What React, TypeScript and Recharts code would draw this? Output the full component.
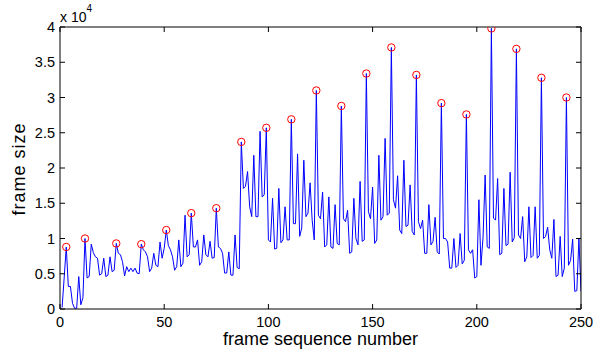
import React from "react";
import { LineChart, Line, XAxis, YAxis } from "recharts";

// frame sizes in bytes, frames 1..250
const frameSizes = [
  200, 4400, 8800, 3200, 3200, 800, 100, 100, 4600, 600, 1600, 10000,
  4400, 4600, 9200, 8000, 7400, 7200, 4800, 5000, 7200, 4600, 4800, 7400,
  5300, 5500, 9300, 7900, 7700, 6700, 4700, 6000, 5300, 5800, 5300, 5800,
  5100, 5000, 9200, 8400, 8100, 7400, 5300, 5800, 7900, 6200, 6000, 9500,
  7200, 8600, 11200, 9000, 8400, 7400, 5500, 6000, 9800, 6000, 6500, 13300,
  7400, 7700, 13600, 8800, 8800, 9800, 6200, 6700, 10500, 7700, 7400, 9600,
  7200, 7300, 14300, 8800, 8600, 7900, 5100, 5100, 8100, 4800, 4800, 10500,
  5900, 5700, 23700, 17100, 17400, 19500, 14500, 13100, 21800, 13100, 13100, 25200,
  15900, 16200, 25700, 9800, 9500, 15700, 8500, 8600, 17100, 9400, 9800, 14500,
  9800, 9800, 26900, 12100, 12100, 22000, 10300, 11500, 21100, 13100, 13600, 17900,
  12600, 9800, 31000, 13300, 12800, 16600, 8800, 9100, 15900, 8800, 8600, 14800,
  9300, 9100, 28800, 12800, 12400, 14000, 7900, 8100, 15700, 10000, 9100, 18100,
  9600, 9800, 33400, 13800, 12800, 17300, 9300, 9800, 21800, 12600, 13100, 24200,
  13300, 13600, 37100, 15500, 14300, 18900, 11200, 10700, 21100, 11700, 11900, 17600,
  11000, 10500, 33200, 12400, 11400, 12600, 7900, 7900, 14800, 9100, 9600, 13000,
  8100, 7800, 29200, 10000, 10000, 9500, 5800, 5800, 10000, 5900, 6200, 10700,
  6400, 6900, 27600, 8400, 7900, 8400, 4400, 4600, 15500, 6200, 10200, 19000,
  8800, 8600, 39800, 12900, 12600, 18500, 7700, 7900, 17100, 9000, 9200, 19400,
  9500, 10100, 36900, 10500, 10000, 13100, 6700, 7400, 14500, 7300, 7600, 14500,
  7200, 7600, 32800, 10000, 10300, 11600, 8400, 7200, 12700, 4600, 4800, 10300,
  4600, 5800, 30000, 6200, 6900, 9900, 2500, 2600, 10000, 2500,
];

// I-frames marked with red circles
const iFrames = [3, 12, 27, 39, 51, 63, 75, 87, 99, 111, 123, 135, 147, 159, 171, 183, 195, 207, 219, 231, 243];

const xTicks = [0, 50, 100, 150, 200, 250];
const yTicks = [0, 5000, 10000, 15000, 20000, 25000, 30000, 35000, 40000];

const chartData = frameSizes.map((size, i) => ({ frame: i + 1, size }));

const FONT = "'Liberation Sans', Arial, Helvetica, sans-serif";
const TICK_LEN = 5;

const fmtY = (v: number) => String(v / 10000);

function BottomTick({ x, y, payload }: any) {
  return (
    <g>
      <line x1={x} x2={x} y1={y - 8} y2={y - 8 - TICK_LEN} stroke="#000" />
      <text x={x} y={y} dy="0.71em" textAnchor="middle" fontSize={14.5} fontFamily={FONT} fill="#000">
        {payload.value}
      </text>
    </g>
  );
}

function TopTick({ x, y }: any) {
  return <line x1={x} x2={x} y1={y} y2={y + TICK_LEN} stroke="#000" />;
}

function LeftTick({ x, y, payload }: any) {
  return (
    <g>
      <line x1={x + 5} x2={x + 5 + TICK_LEN} y1={y} y2={y} stroke="#000" />
      <text x={x} y={y} dy="0.36em" textAnchor="end" fontSize={14.5} fontFamily={FONT} fill="#000">
        {fmtY(payload.value)}
      </text>
    </g>
  );
}

function RightTick({ x, y }: any) {
  return <line x1={x} x2={x - TICK_LEN} y1={y} y2={y} stroke="#000" />;
}

function IFrameDot(props: any) {
  const { cx, cy, payload, index } = props;
  if (!iFrames.includes(payload.frame)) return <g key={`d-${index}`} />;
  return <circle key={`d-${index}`} cx={cx} cy={cy} r={3.7} fill="none" stroke="#ff0000" strokeWidth={1} />;
}

function YLabel({ viewBox }: any) {
  const { x, y, width, height } = viewBox;
  const cy = y + height / 2 + 1;
  return (
    <g fontFamily={FONT} fill="#000">
      <text x={x + width} y={y - 5} fontSize={14} textAnchor="start">
        x 10<tspan dy={-10} fontSize={10}>4</tspan>
      </text>
      <text
        x={x + 25}
        y={cy}
        fontSize={18}
        letterSpacing={1}
        textAnchor="middle"
        transform={`rotate(-90, ${x + 25}, ${cy})`}
      >
        frame size
      </text>
    </g>
  );
}

function XLabel({ viewBox }: any) {
  const { x, y, width } = viewBox;
  return (
    <text x={x + width / 2} y={y + 36} fontSize={18} textAnchor="middle" fontFamily={FONT} fill="#000">
      frame sequence number
    </text>
  );
}

export default function App() {
  return (
    <div style={{ position: "absolute", left: 0, top: 0, width: 602, height: 352, background: "#fff" }}>
      <LineChart width={602} height={352} data={chartData} margin={{ top: 26, right: 20, bottom: 0, left: 0 }}>
        <XAxis
          dataKey="frame"
          type="number"
          domain={[0, 250]}
          ticks={xTicks}
          allowDataOverflow
          height={43}
          tickSize={0}
          tickMargin={8}
          tickLine={false}
          axisLine={{ stroke: "#000" }}
          tick={<BottomTick />}
          label={<XLabel />}
        />
        <XAxis
          xAxisId="top"
          orientation="top"
          dataKey="frame"
          type="number"
          domain={[0, 250]}
          ticks={xTicks}
          allowDataOverflow
          height={1}
          tickSize={0}
          tickMargin={0}
          tickLine={false}
          axisLine={{ stroke: "#000" }}
          tick={<TopTick />}
        />
        <YAxis
          type="number"
          domain={[0, 40000]}
          ticks={yTicks}
          allowDataOverflow
          width={60}
          tickSize={0}
          tickMargin={5}
          tickLine={false}
          axisLine={{ stroke: "#000" }}
          tick={<LeftTick />}
          label={<YLabel />}
        />
        <YAxis
          yAxisId="right"
          orientation="right"
          type="number"
          domain={[0, 40000]}
          ticks={yTicks}
          allowDataOverflow
          width={1}
          tickSize={0}
          tickMargin={0}
          tickLine={false}
          axisLine={{ stroke: "#000" }}
          tick={<RightTick />}
        />
        {/* invisible copy bound to the top/right axes so the box frame renders */}
        <Line
          xAxisId="top"
          yAxisId="right"
          type="linear"
          dataKey="size"
          stroke="none"
          dot={false}
          activeDot={false}
          legendType="none"
          isAnimationActive={false}
        />
        <Line
          type="linear"
          dataKey="size"
          stroke="#0000ff"
          strokeWidth={1}
          dot={IFrameDot}
          activeDot={false}
          isAnimationActive={false}
        />
      </LineChart>
    </div>
  );
}
